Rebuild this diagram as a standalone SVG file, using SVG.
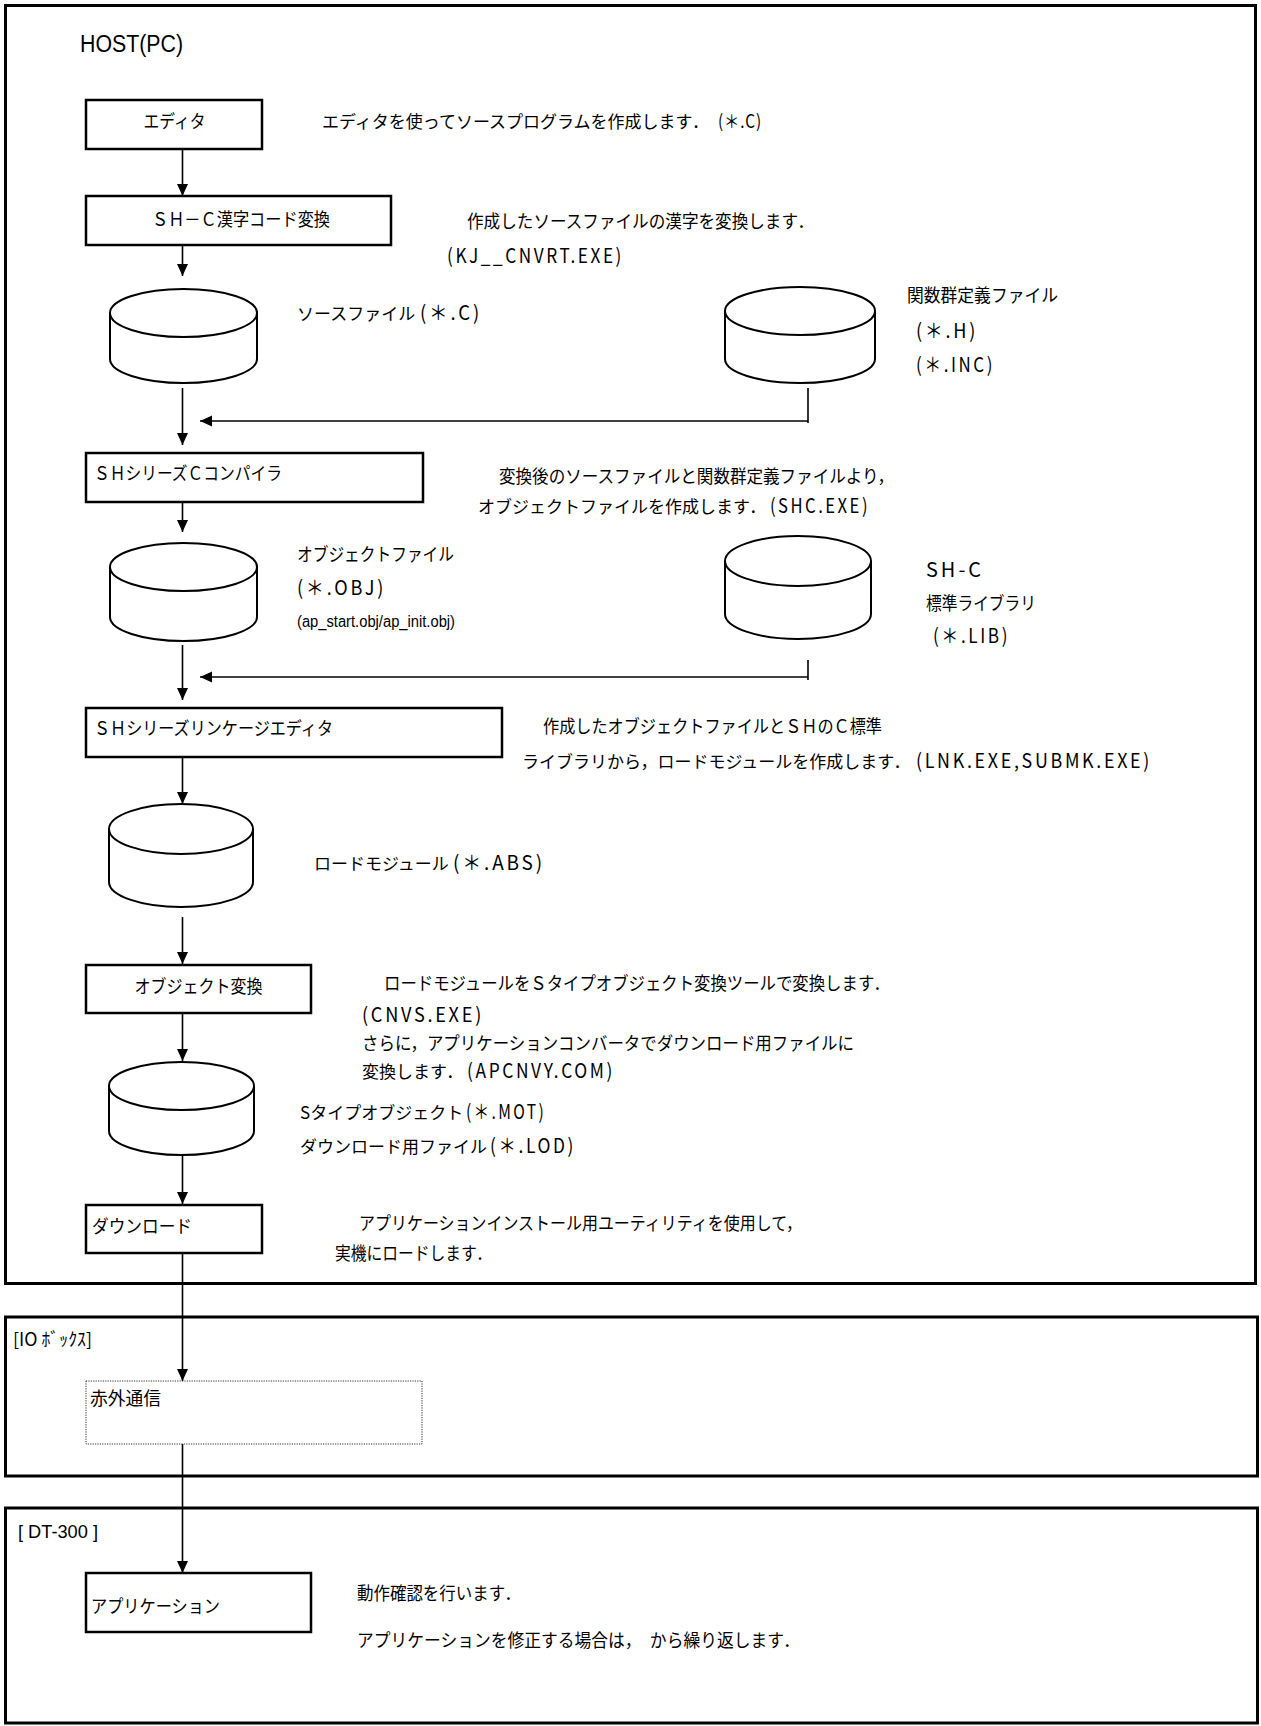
<svg xmlns="http://www.w3.org/2000/svg" width="1261" height="1726" viewBox="0 0 1261 1726">
<defs>
<style>
.frame{fill:none;stroke:#000;stroke-width:3}
.box{fill:#fff;stroke:#000;stroke-width:2.5}
.dotbox{fill:#fff;stroke:#333;stroke-width:1;stroke-dasharray:1.2 1.2}
.cyl{fill:#fff;stroke:#000;stroke-width:2}
.conn{fill:none;stroke:#000;stroke-width:1.6}
.jp{font-family:"Noto Sans CJK JP","Noto Sans",sans-serif;font-size:18px;fill:#000}
.j17{font-size:17px}
.lat{font-family:"Liberation Sans",Arial,sans-serif;fill:#000}
.sp{font-size:20px;letter-spacing:3px}
</style>
<marker id="ah" viewBox="0 0 12 12" refX="12" refY="6" markerWidth="12" markerHeight="12" markerUnits="userSpaceOnUse" orient="auto">
<path d="M0,0.5 L12,6 L0,11.5 z" fill="#000"/>
</marker>
</defs>
<rect x="0" y="0" width="1261" height="1726" fill="#fff"/>

<g id="host">
<rect class="frame" x="5.5" y="5.5" width="1250" height="1278"/>
<text class="lat" x="80" y="52" font-size="23" textLength="103" lengthAdjust="spacingAndGlyphs">HOST(PC)</text>
</g>
<g id="iobox">
<rect class="frame" x="5.5" y="1317" width="1252" height="159"/>
<text class="jp" x="13" y="1346" font-size="17" textLength="79" lengthAdjust="spacingAndGlyphs">[IO ﾎﾞｯｸｽ]</text>
</g>
<g id="dt300">
<rect class="frame" x="5.5" y="1508" width="1252" height="215"/>
<text class="lat" x="18" y="1538" font-size="19" textLength="80" lengthAdjust="spacingAndGlyphs">[ DT-300 ]</text>
</g>

<g id="editor">
<rect class="box" x="86" y="100" width="176" height="49"/>
<text class="jp" x="174.5" y="128" text-anchor="middle" textLength="62" lengthAdjust="spacingAndGlyphs">エディタ</text>
</g>
<g id="kanji-conv">
<rect class="box" x="86" y="196" width="305" height="49"/>
<text class="jp" x="152" y="226" textLength="178" lengthAdjust="spacingAndGlyphs">ＳＨ－Ｃ漢字コード変換</text>
</g>
<g id="source-file">
<path class="cyl" d="M110,313 L110,359 A73.5,24 0 0 0 257,359 L257,313"/>
<ellipse class="cyl" cx="183.5" cy="313" rx="73.5" ry="24"/>
</g>
<g id="header-file">
<path class="cyl" d="M725,311 L725,359 A75,24 0 0 0 875,359 L875,311"/>
<ellipse class="cyl" cx="800" cy="311" rx="75" ry="24"/>
</g>
<g id="compiler">
<rect class="box" x="86" y="453" width="337" height="49"/>
<text class="jp" x="94" y="480" textLength="188" lengthAdjust="spacingAndGlyphs">ＳＨシリーズＣコンパイラ</text>
</g>
<g id="object-file">
<path class="cyl" d="M110,567 L110,617 A73.5,24 0 0 0 257,617 L257,567"/>
<ellipse class="cyl" cx="183.5" cy="567" rx="73.5" ry="24"/>
</g>
<g id="std-lib">
<path class="cyl" d="M725,561 L725,614 A73,25 0 0 0 871,614 L871,561"/>
<ellipse class="cyl" cx="798" cy="561" rx="73" ry="25"/>
</g>
<g id="linker">
<rect class="box" x="86" y="708" width="416" height="49"/>
<text class="jp" x="94" y="735" textLength="239" lengthAdjust="spacingAndGlyphs">ＳＨシリーズリンケージエディタ</text>
</g>
<g id="load-module">
<path class="cyl" d="M109,829 L109,882 A72,25 0 0 0 253,882 L253,829"/>
<ellipse class="cyl" cx="181" cy="829" rx="72" ry="25"/>
</g>
<g id="obj-conv">
<rect class="box" x="86" y="965" width="225" height="48"/>
<text class="jp" x="198.5" y="993" text-anchor="middle" textLength="128" lengthAdjust="spacingAndGlyphs">オブジェクト変換</text>
</g>
<g id="mot-file">
<path class="cyl" d="M109,1086 L109,1131 A72.5,24 0 0 0 254,1131 L254,1086"/>
<ellipse class="cyl" cx="181.5" cy="1086" rx="72.5" ry="24"/>
</g>
<g id="download">
<rect class="box" x="86" y="1205" width="176" height="48"/>
<text class="jp" x="92" y="1233" textLength="100" lengthAdjust="spacingAndGlyphs">ダウンロード</text>
</g>
<g id="infrared">
<rect class="dotbox" x="86" y="1381" width="336" height="63"/>
<text class="jp" x="90" y="1405" textLength="71" lengthAdjust="spacingAndGlyphs">赤外通信</text>
</g>
<g id="application">
<rect class="box" x="86" y="1573" width="225" height="59"/>
<text class="jp" x="91" y="1613" textLength="129" lengthAdjust="spacingAndGlyphs">アプリケーション</text>
</g>

<g id="labels">
<text class="jp j17" x="322" y="128">エディタを使ってソースプログラムを作成します．</text>
<text class="jp" x="718" y="128" letter-spacing="1" textLength="44" lengthAdjust="spacingAndGlyphs">(＊.C)</text>
<text class="jp" x="467" y="228" textLength="347" lengthAdjust="spacingAndGlyphs">作成したソースファイルの漢字を変換します．</text>
<text class="jp sp" x="447" y="263" textLength="177" lengthAdjust="spacingAndGlyphs">(KJ__CNVRT.EXE)</text>
<text class="jp j17" x="297" y="320">ソースファイル</text>
<text class="jp sp" x="420" y="320" textLength="62" lengthAdjust="spacingAndGlyphs">(＊.C)</text>
<text class="jp" x="907" y="302" textLength="151" lengthAdjust="spacingAndGlyphs">関数群定義ファイル</text>
<text class="jp sp" x="916" y="338" textLength="62" lengthAdjust="spacingAndGlyphs">(＊.H)</text>
<text class="jp sp" x="916" y="372" textLength="79" lengthAdjust="spacingAndGlyphs">(＊.INC)</text>
<text class="jp" x="499" y="483" textLength="395" lengthAdjust="spacingAndGlyphs">変換後のソースファイルと関数群定義ファイルより，</text>
<text class="jp j17" x="478" y="513">オブジェクトファイルを作成します．</text>
<text class="jp sp" x="770" y="513" textLength="100" lengthAdjust="spacingAndGlyphs">(SHC.EXE)</text>
<text class="jp" x="297" y="561" textLength="157" lengthAdjust="spacingAndGlyphs">オブジェクトファイル</text>
<text class="jp sp" x="297" y="595" textLength="89" lengthAdjust="spacingAndGlyphs">(＊.OBJ)</text>
<text class="lat" x="297" y="627" font-size="16" textLength="158" lengthAdjust="spacingAndGlyphs">(ap_start.obj/ap_init.obj)</text>
<text class="jp sp" x="926" y="577" letter-spacing="6" textLength="58" lengthAdjust="spacingAndGlyphs">SH-C</text>
<text class="jp" x="926" y="610" textLength="110" lengthAdjust="spacingAndGlyphs">標準ライブラリ</text>
<text class="jp sp" x="933" y="643" textLength="77" lengthAdjust="spacingAndGlyphs">(＊.LIB)</text>
<text class="jp" x="543" y="733" textLength="339" lengthAdjust="spacingAndGlyphs">作成したオブジェクトファイルとＳＨのＣ標準</text>
<text class="jp j17" x="522" y="768">ライブラリから，ロードモジュールを作成します．</text>
<text class="jp sp" x="916" y="768" textLength="236" lengthAdjust="spacingAndGlyphs">(LNK.EXE,SUBMK.EXE)</text>
<text class="jp j17" x="314" y="870">ロードモジュール</text>
<text class="jp sp" x="453" y="870" textLength="92" lengthAdjust="spacingAndGlyphs">(＊.ABS)</text>
<text class="jp" x="384" y="990" textLength="506" lengthAdjust="spacingAndGlyphs">ロードモジュールをＳタイプオブジェクト変換ツールで変換します．</text>
<text class="jp sp" x="362" y="1022" textLength="122" lengthAdjust="spacingAndGlyphs">(CNVS.EXE)</text>
<text class="jp" x="362" y="1050" textLength="492" lengthAdjust="spacingAndGlyphs">さらに，アプリケーションコンバータでダウンロード用ファイルに</text>
<text class="jp j17" x="362" y="1078">変換します．</text>
<text class="jp sp" x="467" y="1078" textLength="148" lengthAdjust="spacingAndGlyphs">(APCNVY.COM)</text>
<text class="jp j17" x="300" y="1119">Sタイプオブジェクト</text>
<text class="jp sp" x="466" y="1119" textLength="80" lengthAdjust="spacingAndGlyphs">(＊.MOT)</text>
<text class="jp j17" x="300" y="1153">ダウンロード用ファイル</text>
<text class="jp sp" x="490" y="1153" textLength="86" lengthAdjust="spacingAndGlyphs">(＊.LOD)</text>
<text class="jp" x="359" y="1230" textLength="443" lengthAdjust="spacingAndGlyphs">アプリケーションインストール用ユーティリティを使用して，</text>
<text class="jp" x="335" y="1260" textLength="157" lengthAdjust="spacingAndGlyphs">実機にロードします．</text>
<text class="jp" x="357" y="1600" textLength="164" lengthAdjust="spacingAndGlyphs">動作確認を行います．</text>
<text class="jp" x="357" y="1647" textLength="443" lengthAdjust="spacingAndGlyphs">アプリケーションを修正する場合は，　から繰り返します．</text>
</g>

<g id="connectors">
<line class="conn" x1="182.5" y1="149" x2="182.5" y2="196" marker-end="url(#ah)"/>
<line class="conn" x1="182.5" y1="245" x2="182.5" y2="276" marker-end="url(#ah)"/>
<line class="conn" x1="182.5" y1="388" x2="182.5" y2="445" marker-end="url(#ah)"/>
<line class="conn" x1="808" y1="388" x2="808" y2="423"/>
<line class="conn" x1="808" y1="421" x2="200" y2="421" marker-end="url(#ah)"/>
<line class="conn" x1="182.5" y1="502" x2="182.5" y2="532" marker-end="url(#ah)"/>
<line class="conn" x1="182.5" y1="645" x2="182.5" y2="700" marker-end="url(#ah)"/>
<line class="conn" x1="808" y1="660" x2="808" y2="680"/>
<line class="conn" x1="808" y1="677" x2="200" y2="677" marker-end="url(#ah)"/>
<line class="conn" x1="182.5" y1="757" x2="182.5" y2="804" marker-end="url(#ah)"/>
<line class="conn" x1="182.5" y1="917" x2="182.5" y2="964" marker-end="url(#ah)"/>
<line class="conn" x1="182.5" y1="1013" x2="182.5" y2="1061" marker-end="url(#ah)"/>
<line class="conn" x1="182.5" y1="1155" x2="182.5" y2="1204" marker-end="url(#ah)"/>
<line class="conn" x1="182.5" y1="1253" x2="182.5" y2="1381" marker-end="url(#ah)"/>
<line class="conn" x1="182.5" y1="1444" x2="182.5" y2="1573" marker-end="url(#ah)"/>
</g>
</svg>
